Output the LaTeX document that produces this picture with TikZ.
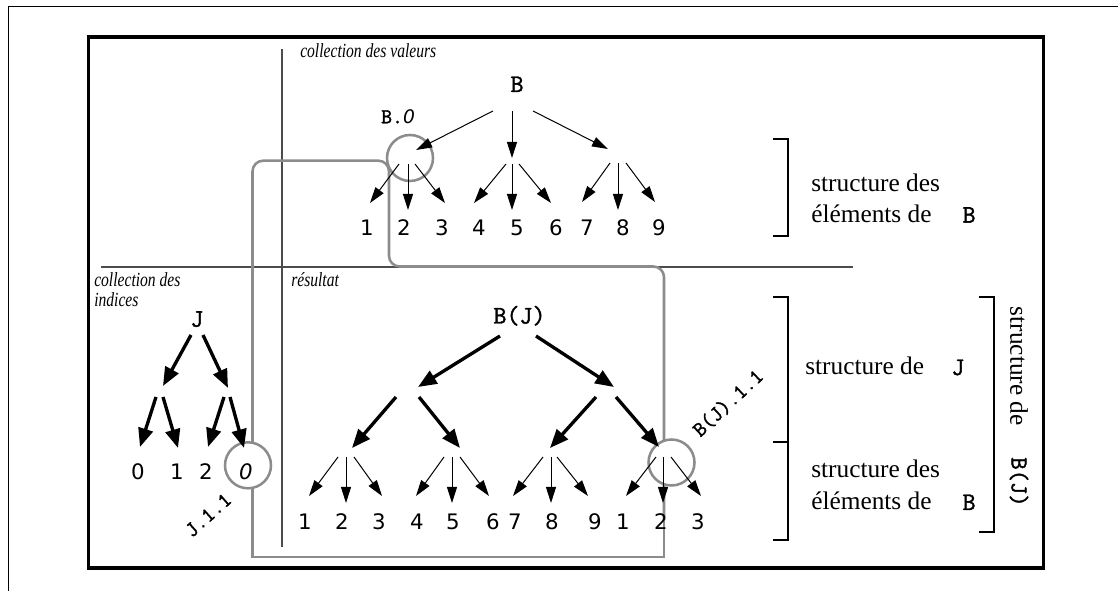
\documentclass[tikz,border=0pt]{standalone}
\usepackage{fontspec}
\setmainfont{Liberation Serif}
\newfontfamily\labit{Liberation Serif}[FakeStretch=0.78]
\newfontfamily\digs{DejaVu Sans}
\newfontfamily\mymono{Latin Modern Mono}[FakeBold=1.6]
\usetikzlibrary{arrows.meta}
\tikzset{
  thinarr/.style={line width=0.75pt,-{Triangle[length=12pt,width=7.5pt]}},
  thickarr/.style={line width=2.5pt,-{Triangle[length=14pt,width=11pt]}},
  dig/.style={font=\digs\fontsize{16pt}{16pt}\selectfont, inner sep=0pt},
  mono/.style={font=\mymono\fontsize{19pt}{19pt}\selectfont, inner sep=0pt, anchor=base},
  smono/.style={font=\mymono\fontsize{16pt}{16pt}\selectfont, inner sep=0pt},
  lab/.style={font=\labit\itshape\fontsize{15pt}{16pt}\selectfont, inner sep=0pt, anchor=base west},
  txt/.style={font=\fontsize{19pt}{23pt}\selectfont, inner sep=0pt, anchor=base west},
  ring/.style={circle, draw=black!45, line width=1.9pt, fill=white, minimum size=34.5pt, inner sep=0pt},
  gpath/.style={draw=black!45, line width=1.9pt},
  divider/.style={draw=black!70, line width=1pt},
  bracket/.style={draw=black, line width=2.2pt, line join=miter},
}
\begin{document}
\begin{tikzpicture}[x=0.75pt,y=-0.75pt]
\useasboundingbox (0,0) rectangle (1118,591);
% page lines
\draw[line width=0.75pt] (8.6,591) -- (8.6,6.7) -- (1118,6.7);
% thick frame
\draw[line width=2.8pt] (88.5,36.7) rectangle (1043.5,568);
% dividers
\draw[divider] (282,49.5) -- (282,547);
\draw[divider] (101,267) -- (852.6,267);
% gray loop
\draw[gpath, rounded corners=8pt] (252.5,520) -- (252.5,160.7) -- (389,160.7) -- (389,266.5) -- (664,266.5) -- (664,520);
\draw[gpath] (664,500) -- (664,557) -- (252.5,557) -- (252.5,500);
% circles
\node[ring] (cB0) at (410,158) {};
\node[ring] (cJ) at (248,465.3) {};
\node[ring] (cBJ) at (671.5,462.5) {};
% labels
\node[lab] (lv) at (300,57.3) {collection des valeurs};
\node[lab] (li1) at (94,286.7) {collection des};
\node[lab] (li2) at (94,306.7) {indices};
\node[lab] (lr) at (291,286.7) {résultat};
% top tree
\node[mono] (B) at (517,92) {B};
\node[mono, font=\mymono\fontsize{16pt}{16pt}\selectfont] (B0) at (398,123.3) {B.{\digs\itshape\fontsize{14pt}{14pt}\selectfont 0}};
\foreach \p/\sx/\sy/\ex/\ey in {
  ta/493/111/416/150, tb/512/111/512/158, tc/533/111/608/149,
  ua/399/164/370/203, ub/408/164/408/210, uc/415/164/445/203,
  va/506/164/474/203, vb/512/164/512/210, vc/519/164/551/203,
  wa/610/163/582/202, wb/618/163/618/210, wc/626/163/655/202}
{ \coordinate (\p s) at (\sx,\sy); \coordinate (\p e) at (\ex,\ey);
  \draw[thinarr] (\p s) -- (\p e); }
\foreach \n/\x/\t in {d1/367/1,d2/404/2,d3/442/3,d4/479/4,d5/517/5,d6/556/6,d7/587/7,d8/623/8,d9/659/9}
  \node[dig] (\n) at (\x,228) {\t};
% J tree
\node[mono] (J) at (197,326.7) {J};
\foreach \p/\sx/\sy/\ex/\ey in {
  ja/191/335/163/386, jb/203/335/228/388,
  jc/156/397/140/447, jd/163/397/178/448,
  je/224/397/208/447, jf/230/397/244/448}
{ \coordinate (\p s) at (\sx,\sy); \coordinate (\p e) at (\ex,\ey);
  \draw[thickarr] (\p s) -- (\p e); }
\node[dig] (j0) at (138,472) {0};
\node[dig] (j1) at (177,472) {1};
\node[dig] (j2) at (206,472) {2};
\node[dig, font=\digs\itshape\fontsize{16pt}{16pt}\selectfont] (j3) at (246,472) {0};
\node[smono, rotate=42] (lJ) at (208,515) {J.1.1};
% B(J) tree
\node[mono] (BJ) at (519.5,323.5) {B(J)};
\foreach \p/\sx/\sy/\ex/\ey in {
  ka/500/336/418/387, kb/536/336/614/387,
  kc/396/397/352/448, kd/419/397/460/448,
  ke/596/397/550/448, kf/616/397/659/447}
{ \coordinate (\p s) at (\sx,\sy); \coordinate (\p e) at (\ex,\ey);
  \draw[thickarr] (\p s) -- (\p e); }
\foreach \p/\sx/\ex/\ey in {
  ha/338/309/496, hb/346/346/503, hc/354/382/496,
  ia/444/416/496, ib/452/452/503, ic/460/489/496,
  ma/543/513/496, mb/551/551/503, mc/557/588/496,
  na/656/626/496, nb/663/663/503, nc/671/701/496}
{ \coordinate (\p s) at (\sx,457); \coordinate (\p e) at (\ex,\ey);
  \draw[thinarr] (\p s) -- (\p e); }
\foreach \n/\x/\t in {e1/305/1,e2/342/2,e3/379/3,e4/417/4,e5/453/5,e6/493/6,e7/515/7,e8/552/8,e9/595/9,e10/623/1,e11/661/2,e12/698/3}
  \node[dig] (\n) at (\x,522) {\t};
\node[smono, rotate=43] (lBJ) at (728,403) {B(J).1.1};
% right side texts
\draw[bracket] (773,139) -- (788,139) -- (788,236) -- (773,236);
\node[txt] (s1) at (811,191.7) {structure des};
\node[txt] (s2) at (811,222.7) {éléments de};
\node[mono] (s2b) at (969,222.7) {B};
\draw[bracket] (773,297) -- (788,297) -- (788,540) -- (773,540);
\draw[bracket] (773,442) -- (788,442);
\node[txt] (s3) at (805,375) {structure de};
\node[mono] (s3j) at (958,375) {J};
\node[txt] (s4) at (811,478) {structure des};
\node[txt] (s5) at (811,510) {éléments de};
\node[mono] (s5b) at (969,510) {B};
\draw[bracket] (979,297) -- (994,297) -- (994,532) -- (979,532);
\node[txt, rotate=-90, anchor=west] (s6) at (1019,306.7) {structure de};
\node[mono, font=\mymono\fontsize{18pt}{18pt}\selectfont, rotate=-90, anchor=west] (s6b) at (1019,457) {B(J)};
\end{tikzpicture}
\end{document}
